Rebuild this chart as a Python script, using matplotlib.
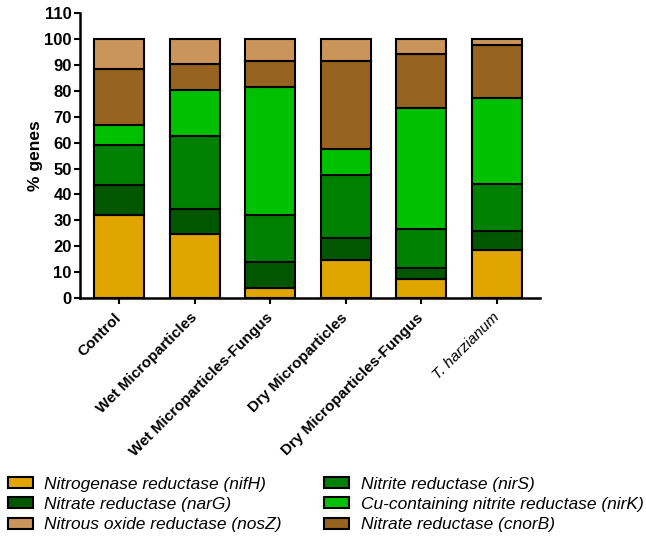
"""
Stacked gene-share bars per treatment
"""
import numpy as np
import matplotlib
matplotlib.use('Agg')
import matplotlib.pyplot as plt
import matplotlib.transforms as mtransforms
from matplotlib.patches import Patch

plt.rcParams['font.family'] = ['Liberation Sans', 'DejaVu Sans']

# Treatments (x axis)
groups = ['Control', 'Wet Microparticles', 'Wet Microparticles-Fungus',
          'Dry Microparticles', 'Dry Microparticles-Fungus', 'T. harzianum']

# Segment values, bottom to top (% genes)
nifH = [32.0, 24.8, 3.9, 14.6, 7.5, 18.6]
narG = [11.5, 9.5, 9.9, 8.4, 4.1, 7.3]
nirS = [15.7, 28.2, 18.2, 24.5, 15.0, 18.2]
nirK = [7.6, 17.8, 49.4, 10.2, 46.7, 33.2]
cnorB = [21.6, 9.9, 10.1, 33.7, 20.8, 20.2]
nosZ = [11.6, 9.8, 8.5, 8.6, 5.9, 2.5]

series = [
    ('Nitrogenase reductase (nifH)', nifH, '#E0A500'),
    ('Nitrate reductase (narG)', narG, '#005700'),
    ('Nitrite reductase (nirS)', nirS, '#008000'),
    ('Cu-containing nitrite reductase (nirK)', nirK, '#00C000'),
    ('Nitrate reductase (cnorB)', cnorB, '#966420'),
    ('Nitrous oxide reductase (nosZ)', nosZ, '#C9955A'),
]

fig = plt.figure(figsize=(6.46, 5.42), dpi=100)
ax = fig.add_axes([0.1238, 0.450, 0.712, 0.526])

x = np.arange(len(groups))
bottom = np.zeros(len(groups))
handles = {}
for name, vals, color in series:
    ax.bar(x, vals, width=0.66, bottom=bottom, color=color,
           edgecolor='black', linewidth=1.5)
    bottom += np.array(vals)
    handles[name] = Patch(facecolor=color, edgecolor='black', linewidth=1.5)

ax.set_ylim(0, 110)
ax.set_xlim(-0.52, 5.57)
ax.set_yticks(np.arange(0, 111, 10))
ax.set_ylabel('% genes', fontsize=12.5, fontweight='bold')
ax.yaxis.set_label_coords(-0.080, 0.5)

ax.set_xticks(x)
ax.set_xticklabels(groups, rotation=45, ha='right', va='center',
                   rotation_mode='anchor', fontweight='bold')
last = ax.get_xticklabels()[-1]
last.set_fontweight('normal')
last.set_fontstyle('italic')
# nudge the slanted labels a little to the right
offset = mtransforms.ScaledTranslation(0.03, 0, fig.dpi_scale_trans)
for lbl in ax.get_xticklabels():
    lbl.set_transform(lbl.get_transform() + offset)
for lbl in ax.get_yticklabels():
    lbl.set_fontweight('bold')

for side in ['top', 'right']:
    ax.spines[side].set_visible(False)
for side in ['left', 'bottom']:
    ax.spines[side].set_linewidth(1.8)
ax.tick_params(axis='both', direction='out', length=4.5, width=1.5)
ax.tick_params(axis='x', labelsize=11, pad=8)
ax.tick_params(axis='y', labelsize=12, pad=1.5)

# legend in two columns, same order as the original
order = ['Nitrogenase reductase (nifH)', 'Nitrate reductase (narG)',
         'Nitrous oxide reductase (nosZ)', 'Nitrite reductase (nirS)',
         'Cu-containing nitrite reductase (nirK)', 'Nitrate reductase (cnorB)']
leg = fig.legend([handles[k] for k in order], order, ncol=2,
                 loc='lower left', bbox_to_anchor=(0.012, 0.018),
                 frameon=False, prop={'style': 'italic', 'size': 12.5},
                 handlelength=1.45, handleheight=0.6, labelspacing=0.3,
                 columnspacing=2.45, handletextpad=0.65, borderaxespad=0,
                 borderpad=0)

fig.savefig('out.png', dpi=100)
